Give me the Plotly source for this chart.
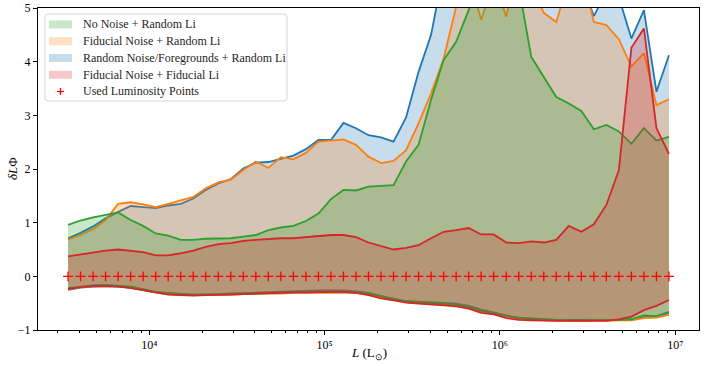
import numpy as np
import plotly.graph_objects as go

# log10 of luminosity points (bin centres)
logL = [3.5357, 3.6071, 3.6786, 3.7500, 3.8214, 3.8929, 3.9643, 4.0357, 4.1071, 4.1786,
        4.2500, 4.3214, 4.3929, 4.4643, 4.5357, 4.6071, 4.6786, 4.7500, 4.8214, 4.8929,
        4.9643, 5.0357, 5.1071, 5.1786, 5.2500, 5.3214, 5.3929, 5.4643, 5.5357, 5.6071,
        5.6786, 5.7500, 5.8214, 5.8929, 5.9643, 6.0357, 6.1071, 6.1786, 6.2500, 6.3214,
        6.3929, 6.4643, 6.5357, 6.6071, 6.6786, 6.7500, 6.8214, 6.8929, 6.9643]

green_hi = [0.96, 1.04, 1.10, 1.14, 1.19, 1.05, 0.94, 0.80, 0.76, 0.68,
            0.68, 0.70, 0.71, 0.71, 0.74, 0.77, 0.86, 0.91, 0.94, 1.03,
            1.17, 1.44, 1.61, 1.60, 1.67, 1.68, 1.70, 2.14, 2.45, 3.29,
            4.03, 4.37, 4.96, 5.80, 6.20, 6.00, 5.40, 4.09, 3.71, 3.34,
            3.22, 3.08, 2.74, 2.82, 2.70, 2.47, 2.76, 2.53, 2.60]
green_lo = [-0.22, -0.19, -0.17, -0.16, -0.17, -0.19, -0.24, -0.29, -0.31, -0.33,
            -0.34, -0.34, -0.34, -0.33, -0.33, -0.32, -0.31, -0.31, -0.30, -0.30,
            -0.29, -0.29, -0.29, -0.30, -0.32, -0.37, -0.43, -0.47, -0.49, -0.50,
            -0.51, -0.53, -0.57, -0.64, -0.69, -0.74, -0.78, -0.80, -0.81, -0.82,
            -0.82, -0.82, -0.82, -0.82, -0.81, -0.80, -0.73, -0.74, -0.66]

orange_hi = [0.69, 0.77, 0.88, 1.05, 1.35, 1.38, 1.34, 1.29, 1.35, 1.42,
             1.48, 1.64, 1.75, 1.80, 1.98, 2.14, 2.02, 2.22, 2.18, 2.30,
             2.51, 2.53, 2.55, 2.45, 2.23, 2.11, 2.15, 2.35, 2.85, 3.41,
             4.06, 5.02, 5.60, 4.78, 5.50, 4.84, 5.80, 5.40, 4.91, 4.74,
             5.50, 5.70, 4.74, 4.68, 4.42, 3.91, 4.16, 3.19, 3.30]
orange_lo = [-0.23, -0.20, -0.18, -0.17, -0.18, -0.20, -0.25, -0.30, -0.33, -0.35,
             -0.35, -0.35, -0.34, -0.34, -0.33, -0.33, -0.32, -0.32, -0.31, -0.31,
             -0.30, -0.30, -0.30, -0.31, -0.34, -0.39, -0.44, -0.48, -0.50, -0.51,
             -0.52, -0.54, -0.58, -0.65, -0.70, -0.75, -0.79, -0.81, -0.82, -0.83,
             -0.83, -0.83, -0.83, -0.83, -0.83, -0.82, -0.78, -0.77, -0.72]

blue_hi = [0.71, 0.81, 0.93, 1.08, 1.20, 1.31, 1.29, 1.27, 1.32, 1.35,
           1.45, 1.61, 1.73, 1.81, 2.01, 2.12, 2.13, 2.19, 2.25, 2.37,
           2.54, 2.54, 2.86, 2.76, 2.63, 2.59, 2.51, 2.96, 3.81, 4.50,
           5.70, 6.20, 6.50, 6.60, 6.80, 6.90, 6.80, 6.50, 6.20, 6.00,
           5.80, 5.50, 4.85, 5.30, 5.20, 4.43, 4.96, 3.44, 4.12]
blue_lo = [-0.25, -0.21, -0.19, -0.18, -0.19, -0.21, -0.25, -0.30, -0.32, -0.34,
           -0.34, -0.34, -0.33, -0.32, -0.31, -0.30, -0.29, -0.28, -0.27, -0.27,
           -0.26, -0.26, -0.26, -0.28, -0.31, -0.37, -0.42, -0.46, -0.47, -0.48,
           -0.49, -0.51, -0.55, -0.62, -0.67, -0.73, -0.77, -0.79, -0.80, -0.81,
           -0.81, -0.81, -0.82, -0.82, -0.81, -0.80, -0.75, -0.74, -0.69]

red_hi = [0.37, 0.41, 0.44, 0.48, 0.50, 0.48, 0.45, 0.39, 0.39, 0.43,
          0.48, 0.55, 0.60, 0.62, 0.66, 0.68, 0.70, 0.71, 0.71, 0.73,
          0.76, 0.77, 0.77, 0.73, 0.63, 0.57, 0.50, 0.53, 0.58, 0.71,
          0.83, 0.86, 0.90, 0.78, 0.78, 0.63, 0.62, 0.65, 0.63, 0.68,
          0.94, 0.83, 0.97, 1.33, 1.98, 4.26, 4.62, 2.76, 2.28]
red_lo = [-0.24, -0.20, -0.18, -0.18, -0.19, -0.22, -0.26, -0.31, -0.34, -0.35,
          -0.36, -0.35, -0.35, -0.34, -0.33, -0.32, -0.31, -0.31, -0.30, -0.30,
          -0.29, -0.29, -0.29, -0.31, -0.35, -0.41, -0.45, -0.49, -0.51, -0.52,
          -0.54, -0.56, -0.60, -0.68, -0.71, -0.78, -0.81, -0.82, -0.83, -0.83,
          -0.83, -0.83, -0.83, -0.83, -0.80, -0.75, -0.63, -0.55, -0.44]

used_points = [0.0] * len(logL)

x_tick_vals = [1e4, 1e5, 1e6, 1e7]
x_tick_text = ["10⁴", "10⁵", "10⁶", "10⁷"]
y_tick_vals = [-1, 0, 1, 2, 3, 4, 5]

x_title = "<i>L</i> (L<sub>⊙</sub>)"
y_title = "<i>δL</i>Φ"

legend_labels = ["No Noise + Random Li", "Fiducial Noise + Random Li",
                 "Random Noise/Foregrounds + Random Li", "Fiducial Noise + Fiducial Li",
                 "Used Luminosity Points"]

C_BLUE, C_ORANGE, C_GREEN, C_RED = (31, 119, 180), (255, 127, 14), (44, 160, 44), (214, 39, 40)

# drawing order (z-order) as in the original: blue, orange, green, red
series = [
    (blue_hi, blue_lo, C_BLUE),
    (orange_hi, orange_lo, C_ORANGE),
    (green_hi, green_lo, C_GREEN),
    (red_hi, red_lo, C_RED),
]
legend_colors = [C_GREEN, C_ORANGE, C_BLUE, C_RED]

L = [10 ** v for v in logL]
FONT = "Liberation Serif"

W, H = 706, 366
ML, MR, MT, MB = 38, 7, 8, 36
PW, PH = W - ML - MR, H - MT - MB


def px2paper(px, py):
    return (px - ML) / PW, (H - MB - py) / PH


fig = go.Figure()
for hi, lo, c in series:
    rgb = "rgb(%d,%d,%d)" % c
    fig.add_trace(go.Scatter(
        x=L + L[::-1], y=hi + lo[::-1], fill="toself", mode="lines",
        line=dict(width=0), fillcolor="rgba(%d,%d,%d,0.25)" % c,
        showlegend=False, hoverinfo="skip"))
    for arr in (hi, lo):
        fig.add_trace(go.Scatter(x=L, y=arr, mode="lines",
                                 line=dict(color=rgb, width=1.8),
                                 showlegend=False))

fig.add_trace(go.Scatter(x=L, y=used_points, mode="markers", showlegend=False,
                         marker=dict(symbol="cross-thin", size=7, color="red",
                                     line=dict(color="red", width=1.3))))

# ---- legend box (drawn manually to match matplotlib spacing) ----
shapes = []
annotations = []
bx0, by0, bx1, by1, r = 45, 14, 287, 101, 3
x0, y0 = px2paper(bx0, by0)
x1, y1 = px2paper(bx1, by1)
rx, ry = r / PW, r / PH
path = (f"M {x0+rx},{y0} L {x1-rx},{y0} Q {x1},{y0} {x1},{y0-ry} "
        f"L {x1},{y1+ry} Q {x1},{y1} {x1-rx},{y1} L {x0+rx},{y1} "
        f"Q {x0},{y1} {x0},{y1+ry} L {x0},{y0-ry} Q {x0},{y0} {x0+rx},{y0} Z")
shapes.append(dict(type="path", xref="paper", yref="paper", path=path,
                   fillcolor="rgba(255,255,255,0.8)", line=dict(color="#d6d6d6", width=1),
                   layer="above"))
row_y = [24.5, 41.2, 58.0, 74.8, 91.5]
for k, label in enumerate(legend_labels):
    cy = row_y[k]
    if k < 4:
        c = legend_colors[k]
        px0, py0 = px2paper(49, cy - 4)
        px1, py1 = px2paper(72, cy + 4)
        shapes.append(dict(type="rect", xref="paper", yref="paper",
                           x0=px0, y0=py0, x1=px1, y1=py1,
                           fillcolor="rgba(%d,%d,%d,0.25)" % c, line=dict(width=0),
                           layer="above"))
    else:
        a0, b0 = px2paper(57, cy)
        a1, b1 = px2paper(64, cy)
        shapes.append(dict(type="line", xref="paper", yref="paper", x0=a0, y0=b0, x1=a1, y1=b1,
                           line=dict(color="red", width=1.3), layer="above"))
        a0, b0 = px2paper(60.5, cy - 3.5)
        a1, b1 = px2paper(60.5, cy + 3.5)
        shapes.append(dict(type="line", xref="paper", yref="paper", x0=a0, y0=b0, x1=a1, y1=b1,
                           line=dict(color="red", width=1.3), layer="above"))
    tx, ty = px2paper(81, cy)
    annotations.append(dict(xref="paper", yref="paper", x=tx, y=ty, text=label,
                            showarrow=False, xanchor="left", yanchor="middle",
                            font=dict(family=FONT, size=12, color="#262626")))

# axis titles placed as in the original
tx, ty = px2paper(369, 353)
annotations.append(dict(xref="paper", yref="paper", x=tx, y=ty, text=x_title, showarrow=False,
                        xanchor="center", yanchor="middle",
                        font=dict(family=FONT, size=13, color="black")))
tx, ty = px2paper(12, 169)
annotations.append(dict(xref="paper", yref="paper", x=tx, y=ty, text=y_title, showarrow=False,
                        xanchor="center", yanchor="middle", textangle=-90,
                        font=dict(family=FONT, size=13, color="black")))

fig.update_layout(
    width=W, height=H,
    margin=dict(l=ML, r=MR, t=MT, b=MB),
    paper_bgcolor="white", plot_bgcolor="white",
    font=dict(family=FONT, size=12, color="black"),
    showlegend=False,
    shapes=shapes, annotations=annotations,
)
fig.update_xaxes(type="log", range=[3.3643, 7.1357],
                 tickmode="array", tickvals=x_tick_vals, ticktext=x_tick_text,
                 automargin=False,
                 showgrid=False, zeroline=False, showline=True, linecolor="black", linewidth=1,
                 mirror=True, ticks="outside", ticklen=4, tickcolor="black",
                 minor=dict(ticks="outside", ticklen=2, tickcolor="black", showgrid=False,
                            dtick="D1"),
                 tickfont=dict(family=FONT, size=12))
fig.update_yaxes(range=[-1, 5], tickvals=y_tick_vals,
                 automargin=False,
                 showgrid=False, zeroline=False, showline=True, linecolor="black", linewidth=1,
                 mirror=True, ticks="outside", ticklen=4, tickcolor="black",
                 tickfont=dict(family=FONT, size=12))

fig.write_html("out.html", config={"displayModeBar": False},
               post_script="document.body.style.margin='0';document.body.style.overflow='hidden';")
